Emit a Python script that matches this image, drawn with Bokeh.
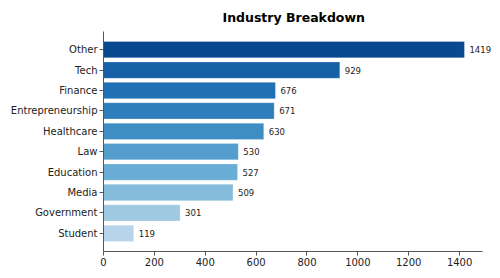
from bokeh.plotting import figure
from bokeh.models import Range1d, FixedTicker, ColumnDataSource
from bokeh.core.properties import value
from bokeh.embed import file_html
from bokeh.resources import INLINE

# Industry counts, listed from smallest (bottom) to largest (top)
industries = ["Student", "Government", "Media", "Education", "Law",
              "Healthcare", "Entrepreneurship", "Finance", "Tech", "Other"]
counts = [119, 301, 509, 527, 530, 630, 671, 676, 929, 1419]
bar_colors = ["#b7d4ea", "#a0cae1", "#85bcdc", "#6aaed6", "#539ecd",
              "#3e8ec4", "#2f7ebc", "#2070b4", "#1461a8", "#09498f"]
x_ticks = [0, 200, 400, 600, 800, 1000, 1200, 1400]

positions = list(range(len(industries)))
source = ColumnDataSource(dict(
    y=positions,
    count=counts,
    label=[str(c) for c in counts],
    color=bar_colors,
))

FONT = "DejaVu Sans"

# axis spans 0..1490; the frame runs on to the right edge so the
# value label of the longest bar has room
x_axis_end = 1490
frame_px = 397
axis_px = 379
x_view_end = x_axis_end * frame_px / axis_px

p = figure(
    width=500, height=278,
    x_range=Range1d(0, x_view_end), y_range=Range1d(-0.89, 9.89),
    output_backend="svg", toolbar_location=None,
    min_border_left=103, min_border_right=0,
    min_border_top=31, min_border_bottom=27,
    title="Industry Breakdown",
)
p.title.align = "left"
p.title.offset = 119
p.title.text_font = FONT
p.title.text_font_size = "12.5px"
p.title.text_font_style = "bold"
p.title.text_color = "black"
p.title.standoff = 14

p.hbar(y="y", left=0, right="count", height=0.8, source=source,
       fill_color="color", line_color="white", line_alpha=0.5, line_width=0.5)

# value labels just past the end of each bar
p.text(x="count", y="y", text="label", source=source,
       x_offset=5, text_baseline="middle", text_align="left",
       text_font=value(FONT), text_font_size="8.5px", text_color="#222222")

p.outline_line_color = None
p.xgrid.visible = False
p.ygrid.visible = False

for ax in (p.xaxis[0], p.yaxis[0]):
    ax.axis_line_color = "#555555"
    ax.axis_line_width = 1
    ax.major_tick_line_color = "#555555"
    ax.major_tick_out = 4
    ax.major_tick_in = 0
    ax.minor_tick_line_color = None
    ax.major_label_text_font = FONT
    ax.major_label_text_font_size = "10px"
    ax.major_label_text_color = "#222222"
    ax.major_label_standoff = 2

p.xaxis.ticker = FixedTicker(ticks=x_ticks)
p.xaxis.bounds = (0, x_axis_end)
p.yaxis.ticker = FixedTicker(ticks=positions)
p.yaxis.major_label_overrides = {i: name for i, name in enumerate(industries)}

open("out.html", "w").write(file_html(p, INLINE))
